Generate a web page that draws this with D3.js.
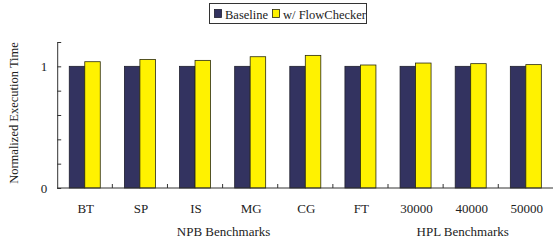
<!DOCTYPE html>
<html>
<head>
<meta charset="utf-8">
<script src="https://cdn.jsdelivr.net/npm/d3@7"></script>
<style>
  body { margin: 0; background: #fff; }
  text { font-family: "Liberation Serif", "DejaVu Serif", serif; fill: #222; }
</style>
</head>
<body>
<script>
// chart data
const categories = ['BT', 'SP', 'IS', 'MG', 'CG', 'FT', '30000', '40000', '50000']
const baseline = [1, 1, 1, 1, 1, 1, 1, 1, 1]
const flowChecker = [1.038, 1.057, 1.049, 1.079, 1.09, 1.011, 1.027, 1.022, 1.014]
const yTicks = [0, 0.2, 0.4, 0.6, 0.8, 1, 1.2]
const yTickLabels = { 0: '0', 1: '1' }
const groups = [
  { name: 'NPB Benchmarks', cats: ['BT', 'SP', 'IS', 'MG', 'CG', 'FT'], shift: 0 },
  { name: 'HPL Benchmarks', cats: ['30000', '40000', '50000'], shift: -9 }
]

const w = 553
const h = 241
const pLeft = 57.2
const pRight = 553.4
const pTop = 42
const pBottom = 188

const svg = d3.select('body')
  .append('svg')
  .attr('width', w)
  .attr('height', h)

// scales
const xScale = d3.scaleBand()
  .domain(categories)
  .range([pLeft, pRight])

const yScale = d3.scaleLinear()
  .domain([0, 1.2])
  .range([pBottom, pTop])

const barW = 15.5
const pad = (xScale.bandwidth() - barW * 2) / 2

// bars
const g = svg.append('g')

g.selectAll('.base')
  .data(categories)
  .enter()
  .append('rect')
  .attr('x', d => xScale(d) + pad)
  .attr('y', (d, i) => yScale(baseline[i]))
  .attr('width', barW)
  .attr('height', (d, i) => yScale(0) - yScale(baseline[i]))
  .style('fill', '#333360')
  .style('stroke', '#1e1e2e')
  .style('stroke-width', 0.8)

g.selectAll('.fc')
  .data(categories)
  .enter()
  .append('rect')
  .attr('x', d => xScale(d) + pad + barW)
  .attr('y', (d, i) => yScale(flowChecker[i]))
  .attr('width', barW)
  .attr('height', (d, i) => yScale(0) - yScale(flowChecker[i]))
  .style('fill', '#fff200')
  .style('stroke', '#2a2a10')
  .style('stroke-width', 0.8)

// y axis
const yAxis = d3.axisLeft(yScale)
  .tickValues(yTicks)
  .tickSizeInner(-4)
  .tickSizeOuter(0)
  .tickPadding(10)
  .tickFormat(d => yTickLabels[d] || '')

const yg = svg.append('g')
  .attr('transform', `translate(${pLeft},0)`)
  .call(yAxis)
yg.select('.domain').attr('stroke', '#333')
yg.selectAll('.tick line').attr('stroke', '#333')
yg.selectAll('.tick text')
  .style('font-family', '"Liberation Serif", serif')
  .style('font-size', '13px')
  .attr('fill', '#222')

// x axis with ticks at group boundaries
const xg = svg.append('g')
  .attr('transform', `translate(0,${pBottom})`)
xg.append('line')
  .attr('x1', pLeft)
  .attr('x2', pRight)
  .attr('stroke', '#333')
xg.selectAll('.xt')
  .data(categories.slice(1))
  .enter()
  .append('line')
  .attr('x1', d => xScale(d))
  .attr('x2', d => xScale(d))
  .attr('y1', 0)
  .attr('y2', -4)
  .attr('stroke', '#333')
xg.selectAll('.xl')
  .data(categories)
  .enter()
  .append('text')
  .attr('x', d => xScale(d) + xScale.bandwidth() / 2 + 1)
  .attr('y', 25)
  .attr('text-anchor', 'middle')
  .style('font-size', '13px')
  .text(d => d)

// group labels
svg.selectAll('.grp')
  .data(groups)
  .enter()
  .append('text')
  .attr('x', d => (xScale(d.cats[0]) + xScale(d.cats[d.cats.length - 1]) + xScale.bandwidth()) / 2 + 1 + d.shift)
  .attr('y', 236)
  .attr('text-anchor', 'middle')
  .style('font-size', '13px')
  .text(d => d.name)

// y axis label
svg.append('text')
  .attr('transform', 'rotate(-90)')
  .attr('x', -(pTop + pBottom) / 2 + 2)
  .attr('y', 18)
  .attr('text-anchor', 'middle')
  .style('font-size', '12.5px')
  .text('Normalized Execution Time')

// legend
const legend = svg.append('g')
legend.append('rect')
  .attr('x', 209.5)
  .attr('y', 3.5)
  .attr('width', 157)
  .attr('height', 20)
  .style('fill', 'white')
  .style('stroke', '#333')
  .style('stroke-width', 1)

legend.append('rect')
  .attr('x', 214.5)
  .attr('y', 9.5)
  .attr('width', 7)
  .attr('height', 8)
  .style('fill', '#333360')
  .style('stroke', '#1e1e2e')
  .style('stroke-width', 0.8)
legend.append('text')
  .attr('x', 225)
  .attr('y', 18.5)
  .style('font-size', '12.5px')
  .text('Baseline')

legend.append('rect')
  .attr('x', 272.5)
  .attr('y', 9.5)
  .attr('width', 7)
  .attr('height', 8)
  .style('fill', '#fff200')
  .style('stroke', '#2a2a10')
  .style('stroke-width', 0.8)
legend.append('text')
  .attr('x', 283)
  .attr('y', 18.5)
  .style('font-size', '12.5px')
  .text('w/ FlowChecker')
</script>
</body>
</html>
